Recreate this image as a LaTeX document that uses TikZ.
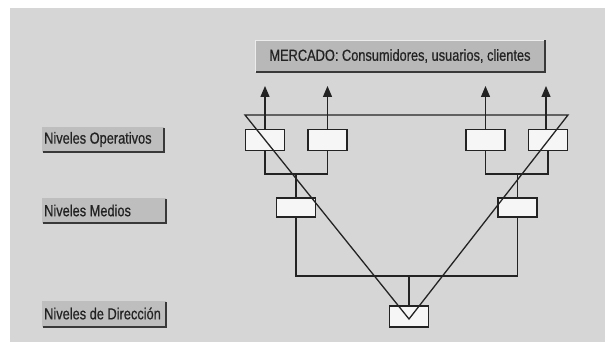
\documentclass[tikz,border=0pt]{standalone}
\usepackage{fontspec}
\newfontfamily\condfont[FakeStretch=0.8,FakeBold=0.6]{Liberation Sans}
\usetikzlibrary{arrows.meta}
\definecolor{bgc}{RGB}{214,214,214}
\definecolor{labc}{RGB}{190,190,190}
\definecolor{mkc}{RGB}{184,184,184}
\definecolor{inkc}{RGB}{35,35,35}
\definecolor{boxc}{RGB}{246,246,246}
\tikzset{
  ln/.style={draw=inkc, line width=1.3pt},
  unitbox/.style={ln, fill=boxc, minimum width=39pt, minimum height=21pt, inner sep=0pt},
  txt/.style={text=inkc, font=\condfont\fontsize{16}{17}\selectfont, inner sep=0pt},
  lab/.style={txt, anchor=west},
  shadowline/.style={draw=inkc!90, line width=1.6pt},
  up/.style={ln, -{Triangle[length=11pt,width=9pt]}}
}
\begin{document}
\begin{tikzpicture}[x=1pt,y=-1pt]
\useasboundingbox (0,0) rectangle (605,342);
\fill[white] (0,0) rectangle (605,342);
\fill[bgc] (10,8) rectangle (605,342);
% market box
\fill[mkc] (255,40) rectangle (545,72);
\draw[white!85!gray, line width=0.8pt] (255,72) -- (255,40) -- (545,40);
\draw[shadowline] (256,72) -- (545,72) -- (545,40);
\node[txt] (mk) at (400,56) {MERCADO: Consumidores, usuarios, clientes};
% level labels
\fill[labc] (42,127) rectangle (164,152);
\draw[shadowline] (43,152) -- (164,152) -- (164,128);
\node[lab] (l1) at (44,139.5) {Niveles Operativos};
\fill[labc] (42,198) rectangle (166,223);
\draw[shadowline] (43,223) -- (166,223) -- (166,199);
\node[lab] (l2) at (44,210.5) {Niveles Medios};
\fill[labc] (42,301) rectangle (166,327);
\draw[shadowline] (43,327) -- (166,327) -- (166,302);
\node[lab] (l3) at (44,313.5) {Niveles de Dirección};
% boxes
\node[unitbox] (o1) at (265,140) {};
\node[unitbox] (o2) at (327.5,140) {};
\node[unitbox] (o3) at (485.5,140) {};
\node[unitbox] (o4) at (548,140) {};
\node[unitbox, minimum height=19pt] (m1) at (296,207.5) {};
\node[unitbox, minimum height=19pt] (m2) at (517.5,207.5) {};
\node[unitbox] (d) at (409,316.5) {};
% arrows up
\coordinate (a1) at (265,86);
\coordinate (a2) at (327.5,86);
\coordinate (a3) at (485.5,86);
\coordinate (a4) at (546,86);
\draw[up] (o1.north) -- (a1);
\draw[up] (o2.north) -- (a2);
\draw[up] (o3.north) -- (a3);
\draw[up] (o4.north -| a4) -- (a4);
% tree connectors
\coordinate (j1) at (296,174);
\coordinate (j2) at (517.5,174);
\coordinate (j3) at (409,276);
\draw[ln] (o1.south) |- (j1) -| (o2.south);
\draw[ln] (j1) -- (m1.north);
\draw[ln] (o3.south) |- (j2) -| (o4.south);
\draw[ln] (j2) -- (m2.north);
\draw[ln] (m1.south) |- (j3) -| (m2.south);
\draw[ln] (j3) -- (d.north);
% triangle
\coordinate (tl) at (245,115);
\coordinate (tr) at (568,115);
\coordinate (tb) at (409,319);
\draw[ln, line join=miter] (tl) -- (tr) -- (tb) -- cycle;
\end{tikzpicture}
\end{document}
